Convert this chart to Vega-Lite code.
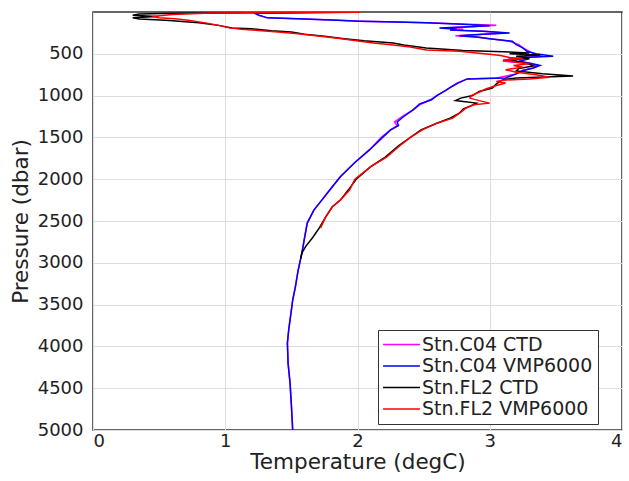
{
  "$schema": "https://vega.github.io/schema/vega-lite/v6.json",
  "width": 529,
  "height": 418,
  "autosize": {"type": "none"},
  "padding": {"left": 93, "top": 12, "right": 7, "bottom": 51},
  "background": "white",
  "config": {
    "font": "DejaVu Sans",
    "view": {"stroke": "#333333", "strokeWidth": 1.5},
    "axis": {"grid": true, "gridColor": "#dddddd", "gridWidth": 1, "domain": false, "ticks": false, "labelFont": "DejaVu Sans", "titleFont": "DejaVu Sans", "labelColor": "#222222", "titleColor": "#222222", "titleFontWeight": "normal", "format": "d"}
  },
  "data": {"values": [
    {"s":"Stn.C04 CTD","P":1,"T":2.02},{"s":"Stn.C04 CTD","P":4,"T":1.85},{"s":"Stn.C04 CTD","P":8,"T":1.5},{"s":"Stn.C04 CTD","P":12,"T":1.22},{"s":"Stn.C04 CTD","P":40,"T":1.25},{"s":"Stn.C04 CTD","P":70,"T":1.32},{"s":"Stn.C04 CTD","P":85,"T":1.6},{"s":"Stn.C04 CTD","P":100,"T":1.85},{"s":"Stn.C04 CTD","P":110,"T":2.02},{"s":"Stn.C04 CTD","P":120,"T":2.3},{"s":"Stn.C04 CTD","P":130,"T":2.52},{"s":"Stn.C04 CTD","P":145,"T":2.78},{"s":"Stn.C04 CTD","P":158,"T":3.05},{"s":"Stn.C04 CTD","P":175,"T":2.85},{"s":"Stn.C04 CTD","P":190,"T":2.65},{"s":"Stn.C04 CTD","P":205,"T":2.8},{"s":"Stn.C04 CTD","P":215,"T":2.7},{"s":"Stn.C04 CTD","P":230,"T":2.95},{"s":"Stn.C04 CTD","P":250,"T":3.12},{"s":"Stn.C04 CTD","P":265,"T":2.95},{"s":"Stn.C04 CTD","P":285,"T":2.74},{"s":"Stn.C04 CTD","P":300,"T":2.9},{"s":"Stn.C04 CTD","P":320,"T":3.0},{"s":"Stn.C04 CTD","P":350,"T":3.15},{"s":"Stn.C04 CTD","P":390,"T":3.22},{"s":"Stn.C04 CTD","P":430,"T":3.25},{"s":"Stn.C04 CTD","P":470,"T":3.3},{"s":"Stn.C04 CTD","P":500,"T":3.33},{"s":"Stn.C04 CTD","P":530,"T":3.4},{"s":"Stn.C04 CTD","P":560,"T":3.15},{"s":"Stn.C04 CTD","P":590,"T":3.1},{"s":"Stn.C04 CTD","P":610,"T":3.28},{"s":"Stn.C04 CTD","P":640,"T":3.35},{"s":"Stn.C04 CTD","P":670,"T":3.33},{"s":"Stn.C04 CTD","P":700,"T":3.25},{"s":"Stn.C04 CTD","P":740,"T":3.2},{"s":"Stn.C04 CTD","P":790,"T":3.05},{"s":"Stn.C04 CTD","P":800,"T":2.83},{"s":"Stn.C04 CTD","P":850,"T":2.75},{"s":"Stn.C04 CTD","P":885,"T":2.72},{"s":"Stn.C04 CTD","P":935,"T":2.67},{"s":"Stn.C04 CTD","P":1000,"T":2.6},{"s":"Stn.C04 CTD","P":1050,"T":2.55},{"s":"Stn.C04 CTD","P":1100,"T":2.48},{"s":"Stn.C04 CTD","P":1170,"T":2.42},{"s":"Stn.C04 CTD","P":1250,"T":2.34},{"s":"Stn.C04 CTD","P":1315,"T":2.28},{"s":"Stn.C04 CTD","P":1360,"T":2.3},{"s":"Stn.C04 CTD","P":1410,"T":2.25},{"s":"Stn.C04 CTD","P":1500,"T":2.18},{"s":"Stn.C04 CTD","P":1650,"T":2.09},{"s":"Stn.C04 CTD","P":1800,"T":1.98},{"s":"Stn.C04 CTD","P":1970,"T":1.87},{"s":"Stn.C04 CTD","P":2130,"T":1.79},{"s":"Stn.C04 CTD","P":2250,"T":1.73},{"s":"Stn.C04 CTD","P":2370,"T":1.67},{"s":"Stn.C04 CTD","P":2525,"T":1.62},{"s":"Stn.C04 CTD","P":2700,"T":1.6},{"s":"Stn.C04 CTD","P":2880,"T":1.58},{"s":"Stn.C04 CTD","P":3100,"T":1.55},{"s":"Stn.C04 CTD","P":3290,"T":1.53},{"s":"Stn.C04 CTD","P":3445,"T":1.51},{"s":"Stn.C04 CTD","P":3565,"T":1.5},{"s":"Stn.C04 CTD","P":3800,"T":1.48},{"s":"Stn.C04 CTD","P":3960,"T":1.47},{"s":"Stn.C04 CTD","P":4200,"T":1.475},{"s":"Stn.C04 CTD","P":4440,"T":1.49},{"s":"Stn.C04 CTD","P":4700,"T":1.5},{"s":"Stn.C04 CTD","P":5000,"T":1.51},

    {"s":"Stn.C04 VMP6000","P":3,"T":1.7},{"s":"Stn.C04 VMP6000","P":8,"T":1.4},{"s":"Stn.C04 VMP6000","P":14,"T":1.22},{"s":"Stn.C04 VMP6000","P":40,"T":1.26},{"s":"Stn.C04 VMP6000","P":70,"T":1.32},{"s":"Stn.C04 VMP6000","P":85,"T":1.6},{"s":"Stn.C04 VMP6000","P":100,"T":1.85},{"s":"Stn.C04 VMP6000","P":110,"T":2.02},{"s":"Stn.C04 VMP6000","P":120,"T":2.3},{"s":"Stn.C04 VMP6000","P":130,"T":2.52},{"s":"Stn.C04 VMP6000","P":145,"T":2.75},{"s":"Stn.C04 VMP6000","P":155,"T":2.9},{"s":"Stn.C04 VMP6000","P":165,"T":3.0},{"s":"Stn.C04 VMP6000","P":175,"T":2.85},{"s":"Stn.C04 VMP6000","P":190,"T":2.62},{"s":"Stn.C04 VMP6000","P":205,"T":2.75},{"s":"Stn.C04 VMP6000","P":215,"T":2.7},{"s":"Stn.C04 VMP6000","P":230,"T":2.95},{"s":"Stn.C04 VMP6000","P":250,"T":3.15},{"s":"Stn.C04 VMP6000","P":265,"T":2.95},{"s":"Stn.C04 VMP6000","P":285,"T":2.77},{"s":"Stn.C04 VMP6000","P":300,"T":2.9},{"s":"Stn.C04 VMP6000","P":320,"T":3.0},{"s":"Stn.C04 VMP6000","P":350,"T":3.17},{"s":"Stn.C04 VMP6000","P":390,"T":3.2},{"s":"Stn.C04 VMP6000","P":430,"T":3.25},{"s":"Stn.C04 VMP6000","P":470,"T":3.28},{"s":"Stn.C04 VMP6000","P":500,"T":3.35},{"s":"Stn.C04 VMP6000","P":530,"T":3.48},{"s":"Stn.C04 VMP6000","P":545,"T":3.25},{"s":"Stn.C04 VMP6000","P":560,"T":3.3},{"s":"Stn.C04 VMP6000","P":590,"T":3.22},{"s":"Stn.C04 VMP6000","P":610,"T":3.3},{"s":"Stn.C04 VMP6000","P":640,"T":3.38},{"s":"Stn.C04 VMP6000","P":670,"T":3.33},{"s":"Stn.C04 VMP6000","P":700,"T":3.25},{"s":"Stn.C04 VMP6000","P":740,"T":3.2},{"s":"Stn.C04 VMP6000","P":790,"T":3.12},{"s":"Stn.C04 VMP6000","P":800,"T":2.83},{"s":"Stn.C04 VMP6000","P":850,"T":2.76},{"s":"Stn.C04 VMP6000","P":885,"T":2.72},{"s":"Stn.C04 VMP6000","P":935,"T":2.67},{"s":"Stn.C04 VMP6000","P":1000,"T":2.6},{"s":"Stn.C04 VMP6000","P":1050,"T":2.56},{"s":"Stn.C04 VMP6000","P":1100,"T":2.47},{"s":"Stn.C04 VMP6000","P":1170,"T":2.42},{"s":"Stn.C04 VMP6000","P":1250,"T":2.35},{"s":"Stn.C04 VMP6000","P":1315,"T":2.3},{"s":"Stn.C04 VMP6000","P":1360,"T":2.31},{"s":"Stn.C04 VMP6000","P":1410,"T":2.25},{"s":"Stn.C04 VMP6000","P":1500,"T":2.19},{"s":"Stn.C04 VMP6000","P":1650,"T":2.09},{"s":"Stn.C04 VMP6000","P":1800,"T":1.98},{"s":"Stn.C04 VMP6000","P":1970,"T":1.87},{"s":"Stn.C04 VMP6000","P":2130,"T":1.79},{"s":"Stn.C04 VMP6000","P":2250,"T":1.73},{"s":"Stn.C04 VMP6000","P":2370,"T":1.67},{"s":"Stn.C04 VMP6000","P":2525,"T":1.62},{"s":"Stn.C04 VMP6000","P":2700,"T":1.6},{"s":"Stn.C04 VMP6000","P":2880,"T":1.58},{"s":"Stn.C04 VMP6000","P":3100,"T":1.55},{"s":"Stn.C04 VMP6000","P":3290,"T":1.53},{"s":"Stn.C04 VMP6000","P":3445,"T":1.51},{"s":"Stn.C04 VMP6000","P":3565,"T":1.5},{"s":"Stn.C04 VMP6000","P":3800,"T":1.48},{"s":"Stn.C04 VMP6000","P":3960,"T":1.47},{"s":"Stn.C04 VMP6000","P":4200,"T":1.475},{"s":"Stn.C04 VMP6000","P":4440,"T":1.49},{"s":"Stn.C04 VMP6000","P":4700,"T":1.5},{"s":"Stn.C04 VMP6000","P":5000,"T":1.51},

    {"s":"Stn.FL2 CTD","P":2,"T":2.0},{"s":"Stn.FL2 CTD","P":8,"T":1.3},{"s":"Stn.FL2 CTD","P":15,"T":0.6},{"s":"Stn.FL2 CTD","P":25,"T":0.35},{"s":"Stn.FL2 CTD","P":40,"T":0.3},{"s":"Stn.FL2 CTD","P":55,"T":0.48},{"s":"Stn.FL2 CTD","P":70,"T":0.3},{"s":"Stn.FL2 CTD","P":85,"T":0.35},{"s":"Stn.FL2 CTD","P":100,"T":0.55},{"s":"Stn.FL2 CTD","P":130,"T":0.8},{"s":"Stn.FL2 CTD","P":160,"T":0.95},{"s":"Stn.FL2 CTD","P":190,"T":1.05},{"s":"Stn.FL2 CTD","P":200,"T":1.2},{"s":"Stn.FL2 CTD","P":225,"T":1.35},{"s":"Stn.FL2 CTD","P":240,"T":1.5},{"s":"Stn.FL2 CTD","P":265,"T":1.6},{"s":"Stn.FL2 CTD","P":290,"T":1.75},{"s":"Stn.FL2 CTD","P":320,"T":1.9},{"s":"Stn.FL2 CTD","P":345,"T":2.05},{"s":"Stn.FL2 CTD","P":370,"T":2.27},{"s":"Stn.FL2 CTD","P":395,"T":2.35},{"s":"Stn.FL2 CTD","P":430,"T":2.52},{"s":"Stn.FL2 CTD","P":460,"T":2.8},{"s":"Stn.FL2 CTD","P":475,"T":3.1},{"s":"Stn.FL2 CTD","P":490,"T":3.3},{"s":"Stn.FL2 CTD","P":500,"T":3.15},{"s":"Stn.FL2 CTD","P":515,"T":3.38},{"s":"Stn.FL2 CTD","P":530,"T":3.2},{"s":"Stn.FL2 CTD","P":550,"T":3.3},{"s":"Stn.FL2 CTD","P":575,"T":3.15},{"s":"Stn.FL2 CTD","P":600,"T":3.25},{"s":"Stn.FL2 CTD","P":625,"T":3.3},{"s":"Stn.FL2 CTD","P":645,"T":3.33},{"s":"Stn.FL2 CTD","P":675,"T":3.22},{"s":"Stn.FL2 CTD","P":705,"T":3.2},{"s":"Stn.FL2 CTD","P":740,"T":3.4},{"s":"Stn.FL2 CTD","P":765,"T":3.63},{"s":"Stn.FL2 CTD","P":790,"T":3.2},{"s":"Stn.FL2 CTD","P":810,"T":3.1},{"s":"Stn.FL2 CTD","P":860,"T":3.05},{"s":"Stn.FL2 CTD","P":910,"T":3.02},{"s":"Stn.FL2 CTD","P":950,"T":2.92},{"s":"Stn.FL2 CTD","P":1000,"T":2.87},{"s":"Stn.FL2 CTD","P":1030,"T":2.78},{"s":"Stn.FL2 CTD","P":1060,"T":2.74},{"s":"Stn.FL2 CTD","P":1090,"T":2.9},{"s":"Stn.FL2 CTD","P":1120,"T":2.86},{"s":"Stn.FL2 CTD","P":1160,"T":2.8},{"s":"Stn.FL2 CTD","P":1210,"T":2.77},{"s":"Stn.FL2 CTD","P":1270,"T":2.7},{"s":"Stn.FL2 CTD","P":1330,"T":2.6},{"s":"Stn.FL2 CTD","P":1410,"T":2.48},{"s":"Stn.FL2 CTD","P":1500,"T":2.4},{"s":"Stn.FL2 CTD","P":1600,"T":2.31},{"s":"Stn.FL2 CTD","P":1735,"T":2.21},{"s":"Stn.FL2 CTD","P":1850,"T":2.1},{"s":"Stn.FL2 CTD","P":2000,"T":1.99},{"s":"Stn.FL2 CTD","P":2130,"T":1.93},{"s":"Stn.FL2 CTD","P":2250,"T":1.87},{"s":"Stn.FL2 CTD","P":2330,"T":1.81},{"s":"Stn.FL2 CTD","P":2450,"T":1.76},{"s":"Stn.FL2 CTD","P":2585,"T":1.71},{"s":"Stn.FL2 CTD","P":2700,"T":1.66},{"s":"Stn.FL2 CTD","P":2800,"T":1.61},{"s":"Stn.FL2 CTD","P":2880,"T":1.58},{"s":"Stn.FL2 CTD","P":2950,"T":1.57},

    {"s":"Stn.FL2 VMP6000","P":2,"T":2.02},{"s":"Stn.FL2 VMP6000","P":6,"T":1.5},{"s":"Stn.FL2 VMP6000","P":12,"T":0.9},{"s":"Stn.FL2 VMP6000","P":30,"T":0.6},{"s":"Stn.FL2 VMP6000","P":55,"T":0.45},{"s":"Stn.FL2 VMP6000","P":70,"T":0.5},{"s":"Stn.FL2 VMP6000","P":80,"T":0.62},{"s":"Stn.FL2 VMP6000","P":100,"T":0.72},{"s":"Stn.FL2 VMP6000","P":130,"T":0.85},{"s":"Stn.FL2 VMP6000","P":160,"T":0.95},{"s":"Stn.FL2 VMP6000","P":190,"T":1.03},{"s":"Stn.FL2 VMP6000","P":205,"T":1.12},{"s":"Stn.FL2 VMP6000","P":220,"T":1.25},{"s":"Stn.FL2 VMP6000","P":240,"T":1.4},{"s":"Stn.FL2 VMP6000","P":260,"T":1.55},{"s":"Stn.FL2 VMP6000","P":290,"T":1.72},{"s":"Stn.FL2 VMP6000","P":320,"T":1.88},{"s":"Stn.FL2 VMP6000","P":350,"T":2.02},{"s":"Stn.FL2 VMP6000","P":370,"T":2.12},{"s":"Stn.FL2 VMP6000","P":395,"T":2.27},{"s":"Stn.FL2 VMP6000","P":420,"T":2.4},{"s":"Stn.FL2 VMP6000","P":455,"T":2.52},{"s":"Stn.FL2 VMP6000","P":470,"T":2.77},{"s":"Stn.FL2 VMP6000","P":490,"T":2.9},{"s":"Stn.FL2 VMP6000","P":505,"T":3.0},{"s":"Stn.FL2 VMP6000","P":520,"T":3.08},{"s":"Stn.FL2 VMP6000","P":545,"T":3.15},{"s":"Stn.FL2 VMP6000","P":560,"T":3.25},{"s":"Stn.FL2 VMP6000","P":575,"T":3.1},{"s":"Stn.FL2 VMP6000","P":600,"T":3.2},{"s":"Stn.FL2 VMP6000","P":620,"T":3.3},{"s":"Stn.FL2 VMP6000","P":640,"T":3.18},{"s":"Stn.FL2 VMP6000","P":660,"T":3.25},{"s":"Stn.FL2 VMP6000","P":690,"T":3.12},{"s":"Stn.FL2 VMP6000","P":720,"T":3.2},{"s":"Stn.FL2 VMP6000","P":750,"T":3.35},{"s":"Stn.FL2 VMP6000","P":780,"T":3.45},{"s":"Stn.FL2 VMP6000","P":800,"T":3.3},{"s":"Stn.FL2 VMP6000","P":815,"T":3.1},{"s":"Stn.FL2 VMP6000","P":830,"T":3.05},{"s":"Stn.FL2 VMP6000","P":850,"T":3.12},{"s":"Stn.FL2 VMP6000","P":880,"T":3.05},{"s":"Stn.FL2 VMP6000","P":920,"T":2.97},{"s":"Stn.FL2 VMP6000","P":960,"T":2.92},{"s":"Stn.FL2 VMP6000","P":1000,"T":2.86},{"s":"Stn.FL2 VMP6000","P":1030,"T":2.85},{"s":"Stn.FL2 VMP6000","P":1060,"T":2.92},{"s":"Stn.FL2 VMP6000","P":1090,"T":3.0},{"s":"Stn.FL2 VMP6000","P":1110,"T":2.88},{"s":"Stn.FL2 VMP6000","P":1150,"T":2.82},{"s":"Stn.FL2 VMP6000","P":1200,"T":2.78},{"s":"Stn.FL2 VMP6000","P":1270,"T":2.72},{"s":"Stn.FL2 VMP6000","P":1330,"T":2.6},{"s":"Stn.FL2 VMP6000","P":1410,"T":2.49},{"s":"Stn.FL2 VMP6000","P":1500,"T":2.4},{"s":"Stn.FL2 VMP6000","P":1600,"T":2.32},{"s":"Stn.FL2 VMP6000","P":1735,"T":2.22},{"s":"Stn.FL2 VMP6000","P":1850,"T":2.1},{"s":"Stn.FL2 VMP6000","P":2000,"T":1.98},{"s":"Stn.FL2 VMP6000","P":2130,"T":1.94},{"s":"Stn.FL2 VMP6000","P":2250,"T":1.87},{"s":"Stn.FL2 VMP6000","P":2330,"T":1.81},{"s":"Stn.FL2 VMP6000","P":2450,"T":1.76},{"s":"Stn.FL2 VMP6000","P":2585,"T":1.72}
  ]},
  "mark": {"type": "line", "strokeWidth": 1.5, "clip": true},
  "encoding": {
    "x": {"field": "T", "type": "quantitative", "scale": {"domain": [0, 4], "nice": false, "zero": false},
      "axis": {"values": [0, 1, 2, 3, 4], "title": "Temperature (degC)", "labelFontSize": 18, "titleFontSize": 21.5, "labelPadding": 2, "titlePadding": 1}},
    "y": {"field": "P", "type": "quantitative", "scale": {"domain": [0, 5000], "reverse": true, "nice": false},
      "axis": {"values": [500, 1000, 1500, 2000, 2500, 3000, 3500, 4000, 4500, 5000], "title": "Pressure (dbar)", "labelFontSize": 18, "titleFontSize": 21.5, "labelPadding": 10, "titlePadding": 5}},
    "order": {"field": "P", "type": "quantitative"},
    "color": {"field": "s", "type": "nominal",
      "scale": {"domain": ["Stn.C04 CTD", "Stn.C04 VMP6000", "Stn.FL2 CTD", "Stn.FL2 VMP6000"], "range": ["#ff00ff", "#0000ff", "#000000", "#ff0000"]},
      "legend": {"title": null, "orient": "none", "legendX": 285, "legendY": 318, "symbolType": "M-2.1,0H6.1", "symbolSize": 81, "symbolStrokeWidth": 1.5, "labelFontSize": 19, "labelFont": "DejaVu Sans", "labelColor": "#222222", "labelOffset": 20, "labelLimit": 400, "rowPadding": 1.5, "padding": 5, "strokeColor": "#333333", "fillColor": "white", "cornerRadius": 0}}
  }
}
